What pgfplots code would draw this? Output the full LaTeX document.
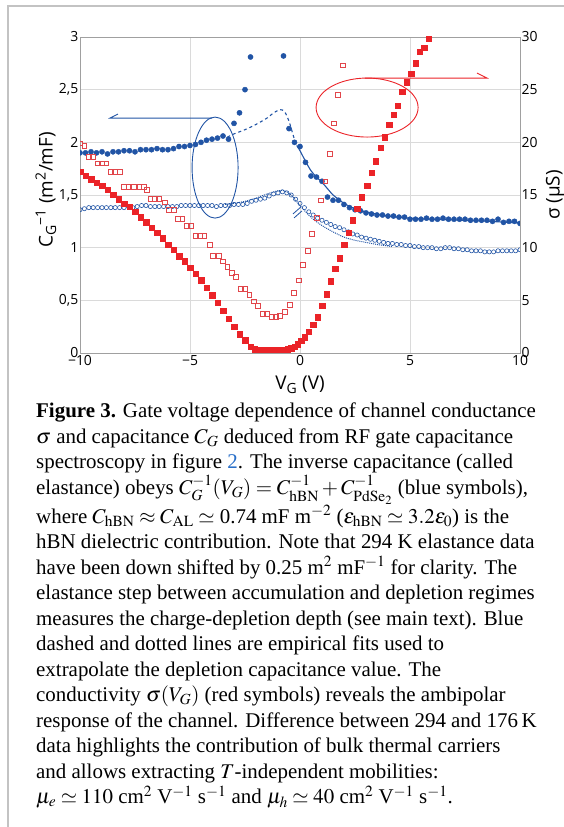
\documentclass[border=0pt]{standalone}
\usepackage{mathptmx}
\usepackage{fontspec}
\setmainfont{Liberation Serif}
\newfontfamily\chartfont{Open Sans}
\usepackage{pgfplots}
\pgfplotsset{compat=1.18}
\definecolor{cblue}{RGB}{33,84,165}
\definecolor{cred}{RGB}{235,35,40}
\definecolor{cred2}{RGB}{225,70,75}
\definecolor{gridgray}{RGB}{218,218,218}
\definecolor{axgray}{RGB}{160,160,160}
\definecolor{framegray}{RGB}{195,195,195}
\definecolor{linkblue}{RGB}{40,110,200}
\pgfplotsset{
  base/.style={
    scale only axis, width=440bp, height=316bp,
    at={(80bp,474bp)}, anchor=south west,
    xmin=-10, xmax=10,
    major tick length=0pt,
    axis line style={axgray, line width=0.8bp},
    tick label style={font=\chartfont\fontsize{14}{16}\selectfont},
    label style={font=\chartfont\fontsize{19}{22}\selectfont},
    /pgf/number format/assume math mode=true,
    clip marker paths=true,
  }
}
\begin{document}
\begin{tikzpicture}[x=1bp,y=1bp]
\useasboundingbox (0,0) rectangle (564,827);
\draw[framegray, line width=2bp] (8,0) -- (8,821) -- (564,821);
\begin{axis}[base,
  ymin=0, ymax=3,
  xtick={-10,-5,0,5,10}, xticklabels={−10,−5,0,5,10},
  ytick={0,0.5,1,1.5,2,2.5,3}, yticklabels={0,{0,5},1,{1,5},2,{2,5},3},
  xtick pos=bottom, ytick pos=left,
  grid=major, major grid style={gridgray, line width=0.9bp},
  xticklabel style={inner sep=1bp, yshift=-1bp},
  yticklabel style={inner sep=1.5bp},
  xlabel={V\textsubscript{G} (V)},
  xlabel style={at={(axis description cs:0.5,-0.101)}, anchor=center},
  ylabel={C\textsubscript{G}\textsuperscript{−1} (m\textsuperscript{2}/mF)},
  ylabel style={at={(axis description cs:-0.0773,0.516)}, anchor=center},
]
% 294 K elastance (shifted), open circles
\addplot[only marks, mark=o, mark size=2.1bp, mark options={draw=cblue, line width=0.6bp}] coordinates {
(-10.0,1.36) (-9.8,1.37) (-9.6,1.38) (-9.4,1.38) (-9.2,1.38) (-9.0,1.38) (-8.8,1.38) (-8.6,1.38) (-8.4,1.38) (-8.2,1.38)
(-8.0,1.38) (-7.8,1.39) (-7.6,1.38) (-7.4,1.39) (-7.2,1.40) (-7.0,1.40) (-6.8,1.39) (-6.6,1.39) (-6.4,1.39) (-6.2,1.39)
(-6.0,1.39) (-5.8,1.39) (-5.6,1.39) (-5.4,1.40) (-5.2,1.40) (-5.0,1.40) (-4.8,1.40) (-4.6,1.40) (-4.4,1.40) (-4.2,1.40)
(-4.0,1.40) (-3.8,1.39) (-3.6,1.40) (-3.4,1.40) (-3.2,1.40) (-3.0,1.41) (-2.8,1.41) (-2.6,1.41) (-2.4,1.42) (-2.2,1.44)
(-2.0,1.45) (-1.8,1.46) (-1.6,1.47) (-1.4,1.49) (-1.2,1.51) (-1.0,1.52) (-0.8,1.53) (-0.6,1.52) (-0.4,1.50) (-0.2,1.46)
(0.0,1.42) (0.2,1.38) (0.4,1.34) (0.6,1.31) (0.8,1.28) (1.0,1.26) (1.2,1.24) (1.4,1.22) (1.6,1.20) (1.8,1.19)
(2.0,1.17) (2.2,1.15) (2.4,1.13) (2.6,1.12) (2.8,1.10) (3.0,1.09) (3.2,1.08) (3.4,1.07) (3.6,1.06) (3.8,1.05)
(4.0,1.04) (4.2,1.04) (4.4,1.03) (4.6,1.03) (4.8,1.02) (5.0,1.02) (5.2,1.01) (5.4,1.01) (5.6,1.00) (5.8,1.00)
(6.0,1.00) (6.2,0.99) (6.4,0.99) (6.6,1.00) (6.8,1.00) (7.0,0.99) (7.2,0.99) (7.4,0.98) (7.6,0.98) (7.8,0.97)
(8.0,0.97) (8.2,0.97) (8.4,0.96) (8.6,0.96) (8.8,0.96) (9.0,0.97) (9.2,0.97) (9.4,0.97) (9.6,0.97) (9.8,0.97) (10.0,0.98)
};
% dotted fit
\addplot[cblue, densely dotted, line width=1bp, smooth] coordinates {
(-3.4,1.41) (-3,1.42) (-2.5,1.44) (-2,1.47) (-1.5,1.51) (-1,1.54) (-0.7,1.54) (-0.4,1.50) (0,1.40) (0.3,1.33)
(0.6,1.27) (1,1.21) (1.5,1.15) (2,1.10) (2.5,1.07) (3,1.05) (3.5,1.03) (4.2,1.01)
};
% 176 K elastance, filled circles
\addplot[only marks, mark=*, mark size=2.6bp, mark options={draw=cblue, fill=cblue}] coordinates {
(-10,1.90) (-9.75,1.90) (-9.5,1.91) (-9.25,1.90) (-9.0,1.91) (-8.75,1.89) (-8.5,1.91) (-8.25,1.91) (-8.0,1.92) (-7.75,1.92)
(-7.5,1.91) (-7.25,1.93) (-7.0,1.93) (-6.75,1.93) (-6.5,1.94) (-6.25,1.93) (-6.0,1.93) (-5.75,1.94) (-5.5,1.96) (-5.25,1.96)
(-5.0,1.97) (-4.75,1.98) (-4.5,2.00) (-4.25,2.02) (-4.0,2.03) (-3.75,2.04) (-3.5,2.06) (-3.25,2.03)
(-3.0,2.18) (-2.75,2.28) (-2.5,2.50) (-2.25,2.81) (-0.75,2.82) (-0.5,2.13) (-0.25,2.00) (0,1.96)
(0.25,1.81) (0.5,1.68) (0.75,1.67) (1.0,1.63) (1.25,1.48) (1.5,1.45) (1.75,1.45) (2.0,1.41) (2.25,1.38)
(2.5,1.36) (2.75,1.35) (3.0,1.33) (3.25,1.32) (3.5,1.31) (3.75,1.31) (4.0,1.30) (4.25,1.30) (4.5,1.29) (4.75,1.29)
(5.0,1.27) (5.25,1.27) (5.5,1.27) (5.75,1.28) (6.0,1.27) (6.25,1.27) (6.5,1.28) (6.75,1.27) (7.0,1.27) (7.25,1.27)
(7.5,1.27) (7.75,1.26) (8.0,1.26) (8.25,1.26) (8.5,1.26) (8.75,1.25) (9.0,1.27) (9.25,1.24) (9.5,1.25) (9.75,1.25) (10,1.23)
};
% dashed fit
\addplot[cblue, dashed, line width=1.1bp, smooth] coordinates {
(-3.3,2.05) (-3,2.08) (-2.5,2.12) (-2,2.17) (-1.5,2.23) (-1.2,2.28) (-0.9,2.31) (-0.7,2.29) (-0.5,2.2) (-0.3,2.06) (-0.15,1.97)
};
% solid fit
\addplot[cblue, line width=1.1bp, smooth] coordinates {
(-0.15,1.97) (0,1.92) (0.25,1.82) (0.5,1.73) (0.75,1.67) (1,1.62) (1.25,1.56) (1.5,1.5) (1.75,1.46) (2,1.42)
(2.5,1.37) (3,1.34) (4,1.30) (5,1.28) (6,1.27) (8,1.255) (10,1.235)
};
% annotations
\draw[cblue, line width=0.9bp] (axis cs:-3.86,1.76) ellipse [x radius=23bp, y radius=50.5bp];
\draw[cblue, line width=0.9bp] (axis cs:-4.0,2.23) -- (axis cs:-8.64,2.23) -- ++(8bp,4bp);
\draw[cred, line width=0.9bp] (axis cs:3.05,2.33) ellipse [x radius=51bp, y radius=29.5bp];
\draw[cred, line width=0.9bp] (axis cs:2.95,2.61) -- (axis cs:8.5,2.61) -- ++(-10bp,5bp);
\draw[cblue, line width=0.8bp] (axis cs:-0.27,1.282) -- (axis cs:0.09,1.349);
\draw[cblue, line width=0.8bp] (axis cs:-0.32,1.32) -- (axis cs:0.045,1.387);
\end{axis}
\begin{axis}[base, ymin=0, ymax=30, axis x line=none, axis y line*=right,
  ytick={0,5,...,30}, yticklabel style={inner sep=1.5bp},
  ylabel={σ (μS)},
  ylabel style={at={(axis description cs:1.0795,0.5)}, anchor=center},
]
% 294 K conductance, open squares
\addplot[only marks, mark=square, mark size=2.4bp, mark options={draw=cred2, line width=0.7bp}] coordinates {
(-10,19.9) (-9.8,19.7) (-9.6,18.6) (-9.4,18.6) (-9.2,18.0) (-9.0,18.0) (-8.8,18.0) (-8.6,17.2) (-8.4,17.2) (-8.2,17.2)
(-8.0,15.8) (-7.8,15.8) (-7.55,15.8) (-7.3,15.8) (-7.1,15.8) (-6.95,15.5) (-6.8,14.6) (-6.6,14.6) (-6.4,14.6) (-6.15,14.3)
(-5.95,13.6) (-5.75,13.6) (-5.55,12.7) (-5.35,12.7) (-5.15,12.1) (-4.95,12.1) (-4.75,11.1) (-4.55,11.1) (-4.35,11.1) (-4.1,10.3)
(-3.95,9.2) (-3.7,9.2) (-3.5,8.7) (-3.3,8.2) (-3.1,7.6) (-2.9,7.2) (-2.7,6.1) (-2.5,6.1) (-2.3,5.5) (-2.1,4.9)
(-1.9,4.5) (-1.7,3.7) (-1.5,3.7) (-1.27,3.4) (-1.1,3.4) (-0.9,3.5) (-0.7,3.9) (-0.45,4.6) (-0.27,5.7) (-0.05,6.9)
(0.14,8.4) (0.36,9.7) (0.55,11.3) (0.77,12.8) (0.95,14.5) (1.15,16.3) (1.36,18.9) (1.55,21.8) (1.73,24.5) (1.95,27.3)
};
% 176 K conductance, filled squares
\addplot[only marks, mark=square*, mark size=2.7bp, mark options={draw=cred, fill=cred}] coordinates {
(-10,17.2) (-9.75,16.85) (-9.5,16.5) (-9.25,16.15) (-9.0,15.9) (-8.75,15.5) (-8.5,15.0) (-8.25,14.6) (-8.0,14.2) (-7.75,13.9)
(-7.5,13.4) (-7.25,12.9) (-7.0,12.4) (-6.75,11.9) (-6.5,11.4) (-6.25,10.9) (-6.0,10.3) (-5.75,9.8) (-5.5,9.2) (-5.25,8.7)
(-5.0,8.1) (-4.75,7.5) (-4.5,6.9) (-4.25,6.2) (-4.0,5.5) (-3.75,4.75) (-3.5,4.0) (-3.25,3.25) (-3.0,2.5) (-2.75,1.8)
(-2.5,1.2) (-2.25,0.6) (-2.05,0.35) (-1.9,0.3) (-1.75,0.25) (-1.6,0.25) (-1.45,0.25) (-1.3,0.25) (-1.15,0.25) (-1.0,0.25)
(-0.85,0.3) (-0.7,0.3) (-0.55,0.35) (-0.4,0.45) (-0.25,0.6) (-0.1,0.85) (0.05,1.15) (0.2,1.5) (0.4,2.0) (0.6,2.7)
(0.8,3.4) (1.0,4.5) (1.2,5.6) (1.4,6.8) (1.6,8.0) (1.8,9.0) (2.0,10.3) (2.2,11.4) (2.4,12.6) (2.6,13.7)
(2.8,14.8) (3.05,15.9) (3.27,17.1) (3.45,18.2) (3.68,19.5) (3.86,20.5) (4.05,21.7) (4.27,22.6) (4.45,23.5) (4.64,24.8)
(4.86,25.7) (5.05,26.5) (5.27,27.5) (5.45,28.6) (5.64,29.0) (5.86,29.9)
};
\end{axis}
\node[anchor=north west, inner sep=0pt, align=left, font=\fontsize{21}{25.6}\selectfont] at (36,424) {%
\textbf{Figure 3.} Gate voltage dependence of channel conductance\\
$\sigma$ and capacitance $C_G$ deduced from RF gate capacitance\\
spectroscopy in figure {\color{linkblue}2}. The inverse capacitance (called\\
elastance) obeys $C_G^{-1}(V_G)=C_{\mathrm{hBN}}^{-1}+C_{\mathrm{PdSe}_2}^{-1}$ (blue symbols),\\
where $C_{\mathrm{hBN}}\approx C_{\mathrm{AL}}\simeq$ 0.74 mF m$^{-2}$ ($\epsilon_{\mathrm{hBN}}\simeq 3.2\epsilon_0$) is the\\
hBN dielectric contribution. Note that 294 K elastance data\\
have been down shifted by 0.25 m$^2$ mF$^{-1}$ for clarity. The\\
elastance step between accumulation and depletion regimes\\
measures the charge-depletion depth (see main text). Blue\\
dashed and dotted lines are empirical fits used to\\
extrapolate the depletion capacitance value. The\\
conductivity $\sigma(V_G)$ (red symbols) reveals the ambipolar\\
response of the channel. Difference between 294 and 176\,K\\
data highlights the contribution of bulk thermal carriers\\
and allows extracting $T$-independent mobilities:\\
$\mu_e\simeq 110$ cm$^2$ V$^{-1}$ s$^{-1}$ and $\mu_h\simeq 40$ cm$^2$ V$^{-1}$ s$^{-1}$.};
\end{tikzpicture}
\end{document}
